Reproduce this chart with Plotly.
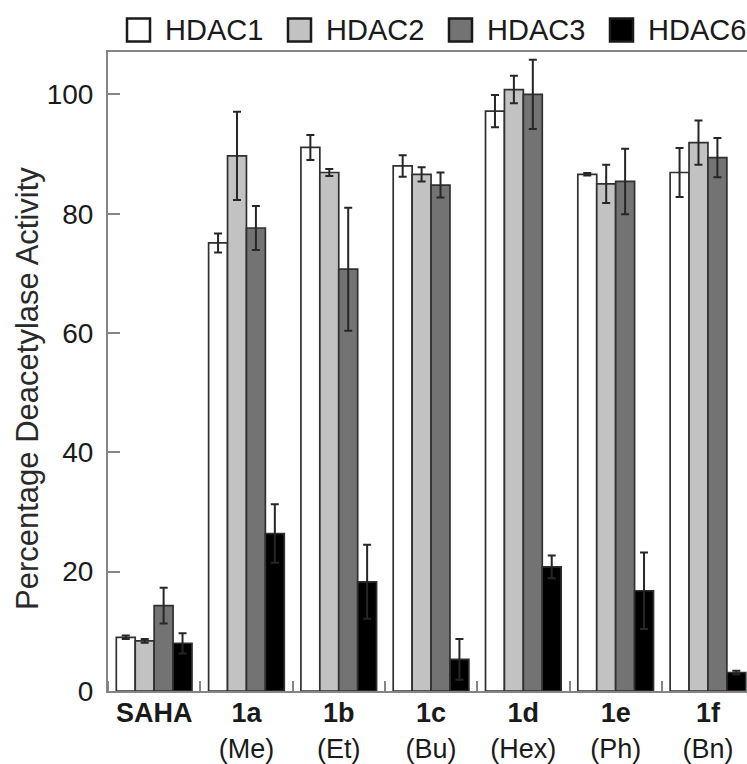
import plotly.graph_objects as go

categories = ["SAHA", "1a", "1b", "1c", "1d", "1e", "1f"]
substituents = ["", "(Me)", "(Et)", "(Bu)", "(Hex)", "(Ph)", "(Bn)"]
series_names = ["HDAC1", "HDAC2", "HDAC3", "HDAC6"]

hdac1 = [9.0, 75.1, 91.1, 88.0, 97.2, 86.6, 86.9]
hdac1_err = [0.3, 1.6, 2.1, 1.8, 2.7, 0.2, 4.1]
hdac2 = [8.4, 89.7, 86.9, 86.6, 100.8, 85.0, 91.9]
hdac2_err = [0.3, 7.4, 0.6, 1.2, 2.3, 3.2, 3.7]
hdac3 = [14.3, 77.6, 70.7, 84.8, 100.0, 85.4, 89.4]
hdac3_err = [3.0, 3.7, 10.3, 2.1, 5.8, 5.5, 3.3]
hdac6 = [8.0, 26.4, 18.3, 5.3, 20.8, 16.8, 3.1]
hdac6_err = [1.7, 4.9, 6.2, 3.4, 1.9, 6.4, 0.3]

y_ticks = [0, 20, 40, 60, 80, 100]
y_title = "Percentage Deacetylase Activity"

values = [hdac1, hdac2, hdac3, hdac6]
errors = [hdac1_err, hdac2_err, hdac3_err, hdac6_err]
fills = ["#ffffff", "#c2c2c2", "#737373", "#000000"]

W, H = 747, 764
ML, MR, MT = 108, 0, 52
PH = 639
MB = H - MT - PH
PW = W - ML - MR
GROUP_PX = 92.3

xpos = list(range(len(categories)))
ticktext = [f"<b>{c}</b>" + (f"<br>{s}" if s else "") for c, s in zip(categories, substituents)]

fig = go.Figure()
for name, v, e, col in zip(series_names, values, errors, fills):
    fig.add_trace(go.Bar(
        x=xpos, y=v, name=name, showlegend=False,
        marker=dict(color=col, line=dict(color="#303030", width=1.7)),
        error_y=dict(type="data", array=e, visible=True, color="#262626", thickness=2, width=4),
    ))

axis_grey = "#858585"
fig.update_layout(
    width=W, height=H,
    margin=dict(l=ML, r=MR, t=MT, b=MB, autoexpand=False),
    paper_bgcolor="white", plot_bgcolor="white",
    barmode="group", bargap=0.18, bargroupgap=0.0,
    font=dict(family="Liberation Sans, Arial, sans-serif", color="#222222"),
    showlegend=False,
)
fig.update_xaxes(
    range=[-0.5, -0.5 + PW / GROUP_PX],
    tickmode="array", tickvals=xpos, ticktext=ticktext,
    tickfont=dict(size=27, color="#1a1a1a"),
    ticks="", showline=True, linecolor=axis_grey, linewidth=2, mirror=True,
    showgrid=False, zeroline=False, ticklabelstandoff=-3,
    minor=dict(tickmode="linear", tick0=0.5, dtick=1, ticks="inside", ticklen=10,
               tickcolor=axis_grey, tickwidth=2, showgrid=False),
)
fig.update_yaxes(
    range=[0, 107.1], tickmode="array", tickvals=y_ticks,
    tickfont=dict(size=28, color="#1a1a1a"),
    ticks="inside", ticklen=12, tickwidth=2, tickcolor=axis_grey,
    showline=True, linecolor=axis_grey, linewidth=2,
    showgrid=False, zeroline=False, ticklabelstandoff=7,
)


def px_to_paper_x(px):
    return (px - ML) / PW


def py_to_paper_y(py):
    return (H - MB - py) / PH


# y-axis title (placed as rotated text, slightly below the axis centre as in the original)
fig.add_annotation(text=y_title, xref="paper", yref="paper",
                   x=px_to_paper_x(27), y=py_to_paper_y(389),
                   xanchor="center", yanchor="middle", textangle=-90, showarrow=False,
                   font=dict(size=31, color="#2a2a2a"))

# Legend drawn as boxes + labels along the top
legend_box_px = [127, 288, 449, 610]
box = 23
cy = 30
for name, col, bx in zip(series_names, fills, legend_box_px):
    fig.add_shape(type="rect", xref="paper", yref="paper",
                  x0=px_to_paper_x(bx), x1=px_to_paper_x(bx + box),
                  y0=py_to_paper_y(cy + box / 2), y1=py_to_paper_y(cy - box / 2),
                  fillcolor=col, line=dict(color="#1a1a1a", width=2.5))
    fig.add_annotation(text=name, xref="paper", yref="paper",
                       x=px_to_paper_x(bx + box + 13), y=py_to_paper_y(cy),
                       xanchor="left", yanchor="middle", showarrow=False,
                       font=dict(size=29, color="#1a1a1a"))

fig.write_html(
    "out.html",
    config={"displayModeBar": False},
    post_script=(
        "document.body.style.margin='0';"
        "document.body.style.overflow='hidden';"
        "document.documentElement.style.overflow='hidden';"
    ),
)
